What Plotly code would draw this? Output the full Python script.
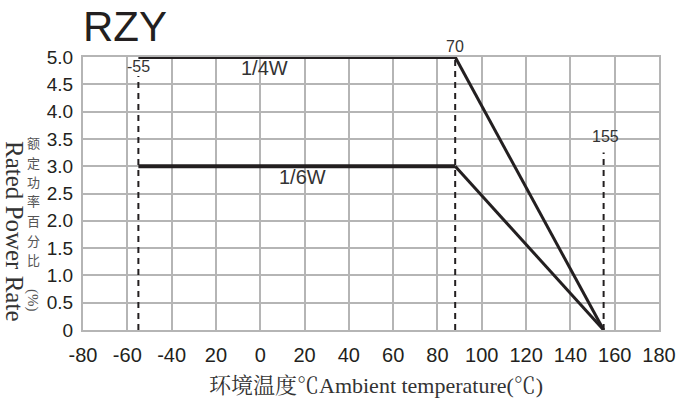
import plotly.graph_objects as go

# ---- data ----
temps = [-55, 88, 155]            # temperature breakpoints (°C)
power_quarter = [5.0, 5.0, 0.0]   # 1/4W curve
power_sixth = [3.0, 3.0, 0.0]     # 1/6W curve
x_ticks = [-80, -60, -40, -20, 0, 20, 40, 60, 80, 100, 120, 140, 160, 180]
x_tick_text = ["-80", "-60", "-40", "20", "0", "20", "40", "60", "80", "100", "120", "140", "160", "180"]
y_ticks = [0, 0.5, 1.0, 1.5, 2.0, 2.5, 3.0, 3.5, 4.0, 4.5, 5.0]
y_tick_text = ["0", "0.5", "1.0", "1.5", "2.0", "2.5", "3.0", "3.5", "4.0", "4.5", "5.0"]
marker_temps = [-55, 88, 155]
marker_tops = [4.65, 5.0, 3.25]
marker_labels = ["-55", "70", "155"]

W, H = 680, 405
L, R, T, B = 83, 21, 57, 75
PW, PH = W - L - R, H - T - B

def px(xp):
    return (xp - L) / PW

def py(yp):
    return (H - B - yp) / PH

INK = "#231f20"
GRID = "#b5b5b5"
SANS = "Liberation Sans, Arial, sans-serif"
SERIF = "Liberation Serif, Noto Serif CJK SC, Noto Sans CJK SC, serif"

fig = go.Figure()

# dashed marker lines
for t, top in zip(marker_temps, marker_tops):
    fig.add_trace(go.Scatter(x=[t, t], y=[0, top], mode="lines",
                             line=dict(color=INK, width=2, dash="6px,5px"),
                             hoverinfo="skip", showlegend=False))

# curves: flat part and derating part
for pw in (power_quarter, power_sixth):
    fig.add_trace(go.Scatter(x=temps[:2], y=pw[:2], mode="lines",
                             line=dict(color=INK, width=4), showlegend=False))
    fig.add_trace(go.Scatter(x=temps[1:], y=pw[1:], mode="lines",
                             line=dict(color=INK, width=3), showlegend=False))

annotations = []
# marker labels
annotations.append(dict(x=marker_temps[0], y=4.83, text=marker_labels[0], showarrow=False,
                        font=dict(family=SANS, size=16, color="#333"), xanchor="center", yanchor="middle"))
annotations.append(dict(xref="x", yref="paper", x=marker_temps[1], y=py(47), text=marker_labels[1],
                        showarrow=False, font=dict(family=SANS, size=16, color="#333"),
                        xanchor="center", yanchor="middle"))
annotations.append(dict(x=marker_temps[2] + 1, y=3.55, text=marker_labels[2], showarrow=False,
                        font=dict(family=SANS, size=16, color="#333"), xanchor="center", yanchor="middle"))
# curve labels
annotations.append(dict(x=2, y=4.8, text="1/4W", showarrow=False,
                        font=dict(family=SANS, size=20, color="#333"), xanchor="center", yanchor="middle"))
annotations.append(dict(x=19, y=2.8, text="1/6W", showarrow=False,
                        font=dict(family=SANS, size=20, color="#333"), xanchor="center", yanchor="middle"))
# title
annotations.append(dict(xref="paper", yref="paper", x=px(81), y=py(27), text="RZY", showarrow=False,
                        font=dict(family=SANS, size=42, color=INK),
                        xanchor="left", yanchor="middle"))
# x axis title
annotations.append(dict(xref="paper", yref="paper", x=px(376), y=py(385),
                        text="环境温度℃Ambient temperature(℃)", showarrow=False,
                        font=dict(family=SERIF, size=22, color="#333"),
                        xanchor="center", yanchor="middle"))
# y axis title (rotated english)
annotations.append(dict(xref="paper", yref="paper", x=px(15), y=py(231),
                        text="Rated Power Rate", showarrow=False, textangle=90,
                        font=dict(family=SERIF, size=25, color="#333"),
                        xanchor="center", yanchor="middle"))
# stacked chinese characters
cn_chars = ["额", "定", "功", "率", "百", "分", "比"]
cn_y = [142, 162, 181, 200, 220, 240, 259]
for ch, yy in zip(cn_chars, cn_y):
    annotations.append(dict(xref="paper", yref="paper", x=px(33), y=py(yy), text=ch,
                            showarrow=False, font=dict(family="Noto Sans CJK SC", size=13, color="#555"),
                            xanchor="center", yanchor="middle"))
annotations.append(dict(xref="paper", yref="paper", x=px(33), y=py(300), text="(%)",
                        showarrow=False, textangle=90,
                        font=dict(family=SERIF, size=15, color="#555"),
                        xanchor="center", yanchor="middle"))

fig.update_layout(
    width=W, height=H,
    margin=dict(l=L, r=R, t=T, b=B, pad=0, autoexpand=False),
    paper_bgcolor="white", plot_bgcolor="white",
    showlegend=False,
    annotations=annotations,
    xaxis=dict(range=[-80, 180], tickvals=x_ticks, ticktext=x_tick_text,
               showgrid=True, gridcolor=GRID, gridwidth=2, automargin=False,
               showline=True, linecolor=GRID, linewidth=2, mirror=True,
               zeroline=False, ticks="", ticklabelstandoff=6,
               tickfont=dict(family=SANS, size=20, color="#231f20")),
    yaxis=dict(range=[0, 5], tickvals=y_ticks, ticktext=y_tick_text,
               showgrid=True, gridcolor=GRID, gridwidth=2, automargin=False,
               showline=True, linecolor=GRID, linewidth=2, mirror=True,
               zeroline=False, ticks="", ticklabelstandoff=4,
               tickfont=dict(family=SANS, size=19, color="#231f20")),
)

fig.write_html("out.html", config={"displayModeBar": False},
               post_script="document.body.style.margin='0';")
